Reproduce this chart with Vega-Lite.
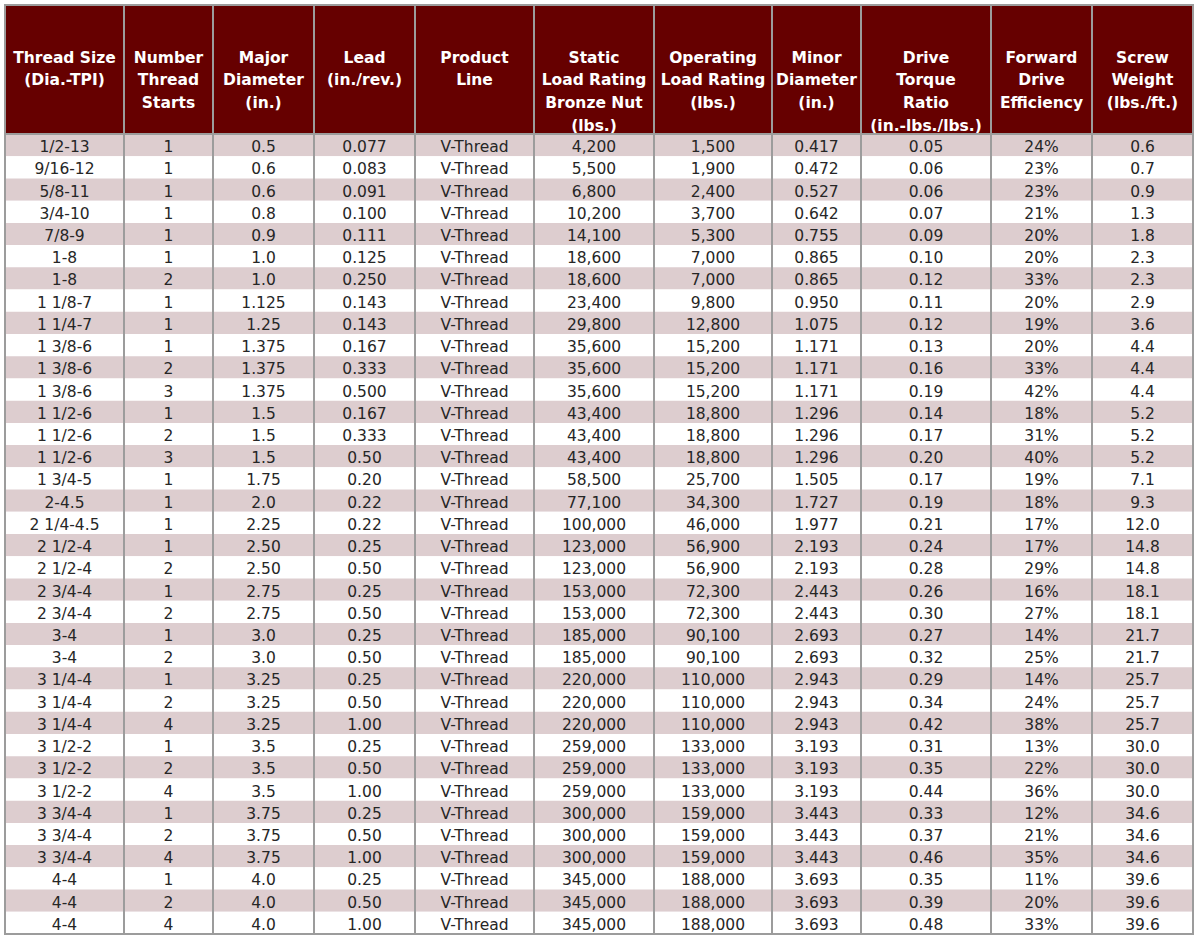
{
  "$schema": "https://vega.github.io/schema/vega-lite/v6.json",
  "padding": {"left": 4, "top": 4, "right": 0, "bottom": 0},
  "spacing": 0,
  "bounds": "flush",
  "columns": 11,
  "datasets": {
    "hdr": [
      {"c": "size", "t": "Thread Size\n(Dia.-TPI)"},
      {"c": "starts", "t": "Number\nThread\nStarts"},
      {"c": "major", "t": "Major\nDiameter\n(in.)"},
      {"c": "lead", "t": "Lead\n(in./rev.)"},
      {"c": "line", "t": "Product\nLine"},
      {"c": "static", "t": "Static\nLoad Rating\nBronze Nut\n(lbs.)"},
      {"c": "oper", "t": "Operating\nLoad Rating\n(lbs.)"},
      {"c": "minor", "t": "Minor\nDiameter\n(in.)"},
      {"c": "torque", "t": "Drive\nTorque\nRatio\n(in.-lbs./lbs.)"},
      {"c": "eff", "t": "Forward\nDrive\nEfficiency"},
      {"c": "weight", "t": "Screw\nWeight\n(lbs./ft.)"}
    ],
    "rows": [
      {"r": 1, "size": "1/2-13", "starts": "1", "major": "0.5", "lead": "0.077", "line": "V-Thread", "static": "4,200", "oper": "1,500", "minor": "0.417", "torque": "0.05", "eff": "24%", "weight": "0.6"},
      {"r": 2, "size": "9/16-12", "starts": "1", "major": "0.6", "lead": "0.083", "line": "V-Thread", "static": "5,500", "oper": "1,900", "minor": "0.472", "torque": "0.06", "eff": "23%", "weight": "0.7"},
      {"r": 3, "size": "5/8-11", "starts": "1", "major": "0.6", "lead": "0.091", "line": "V-Thread", "static": "6,800", "oper": "2,400", "minor": "0.527", "torque": "0.06", "eff": "23%", "weight": "0.9"},
      {"r": 4, "size": "3/4-10", "starts": "1", "major": "0.8", "lead": "0.100", "line": "V-Thread", "static": "10,200", "oper": "3,700", "minor": "0.642", "torque": "0.07", "eff": "21%", "weight": "1.3"},
      {"r": 5, "size": "7/8-9", "starts": "1", "major": "0.9", "lead": "0.111", "line": "V-Thread", "static": "14,100", "oper": "5,300", "minor": "0.755", "torque": "0.09", "eff": "20%", "weight": "1.8"},
      {"r": 6, "size": "1-8", "starts": "1", "major": "1.0", "lead": "0.125", "line": "V-Thread", "static": "18,600", "oper": "7,000", "minor": "0.865", "torque": "0.10", "eff": "20%", "weight": "2.3"},
      {"r": 7, "size": "1-8", "starts": "2", "major": "1.0", "lead": "0.250", "line": "V-Thread", "static": "18,600", "oper": "7,000", "minor": "0.865", "torque": "0.12", "eff": "33%", "weight": "2.3"},
      {"r": 8, "size": "1 1/8-7", "starts": "1", "major": "1.125", "lead": "0.143", "line": "V-Thread", "static": "23,400", "oper": "9,800", "minor": "0.950", "torque": "0.11", "eff": "20%", "weight": "2.9"},
      {"r": 9, "size": "1 1/4-7", "starts": "1", "major": "1.25", "lead": "0.143", "line": "V-Thread", "static": "29,800", "oper": "12,800", "minor": "1.075", "torque": "0.12", "eff": "19%", "weight": "3.6"},
      {"r": 10, "size": "1 3/8-6", "starts": "1", "major": "1.375", "lead": "0.167", "line": "V-Thread", "static": "35,600", "oper": "15,200", "minor": "1.171", "torque": "0.13", "eff": "20%", "weight": "4.4"},
      {"r": 11, "size": "1 3/8-6", "starts": "2", "major": "1.375", "lead": "0.333", "line": "V-Thread", "static": "35,600", "oper": "15,200", "minor": "1.171", "torque": "0.16", "eff": "33%", "weight": "4.4"},
      {"r": 12, "size": "1 3/8-6", "starts": "3", "major": "1.375", "lead": "0.500", "line": "V-Thread", "static": "35,600", "oper": "15,200", "minor": "1.171", "torque": "0.19", "eff": "42%", "weight": "4.4"},
      {"r": 13, "size": "1 1/2-6", "starts": "1", "major": "1.5", "lead": "0.167", "line": "V-Thread", "static": "43,400", "oper": "18,800", "minor": "1.296", "torque": "0.14", "eff": "18%", "weight": "5.2"},
      {"r": 14, "size": "1 1/2-6", "starts": "2", "major": "1.5", "lead": "0.333", "line": "V-Thread", "static": "43,400", "oper": "18,800", "minor": "1.296", "torque": "0.17", "eff": "31%", "weight": "5.2"},
      {"r": 15, "size": "1 1/2-6", "starts": "3", "major": "1.5", "lead": "0.50", "line": "V-Thread", "static": "43,400", "oper": "18,800", "minor": "1.296", "torque": "0.20", "eff": "40%", "weight": "5.2"},
      {"r": 16, "size": "1 3/4-5", "starts": "1", "major": "1.75", "lead": "0.20", "line": "V-Thread", "static": "58,500", "oper": "25,700", "minor": "1.505", "torque": "0.17", "eff": "19%", "weight": "7.1"},
      {"r": 17, "size": "2-4.5", "starts": "1", "major": "2.0", "lead": "0.22", "line": "V-Thread", "static": "77,100", "oper": "34,300", "minor": "1.727", "torque": "0.19", "eff": "18%", "weight": "9.3"},
      {"r": 18, "size": "2 1/4-4.5", "starts": "1", "major": "2.25", "lead": "0.22", "line": "V-Thread", "static": "100,000", "oper": "46,000", "minor": "1.977", "torque": "0.21", "eff": "17%", "weight": "12.0"},
      {"r": 19, "size": "2 1/2-4", "starts": "1", "major": "2.50", "lead": "0.25", "line": "V-Thread", "static": "123,000", "oper": "56,900", "minor": "2.193", "torque": "0.24", "eff": "17%", "weight": "14.8"},
      {"r": 20, "size": "2 1/2-4", "starts": "2", "major": "2.50", "lead": "0.50", "line": "V-Thread", "static": "123,000", "oper": "56,900", "minor": "2.193", "torque": "0.28", "eff": "29%", "weight": "14.8"},
      {"r": 21, "size": "2 3/4-4", "starts": "1", "major": "2.75", "lead": "0.25", "line": "V-Thread", "static": "153,000", "oper": "72,300", "minor": "2.443", "torque": "0.26", "eff": "16%", "weight": "18.1"},
      {"r": 22, "size": "2 3/4-4", "starts": "2", "major": "2.75", "lead": "0.50", "line": "V-Thread", "static": "153,000", "oper": "72,300", "minor": "2.443", "torque": "0.30", "eff": "27%", "weight": "18.1"},
      {"r": 23, "size": "3-4", "starts": "1", "major": "3.0", "lead": "0.25", "line": "V-Thread", "static": "185,000", "oper": "90,100", "minor": "2.693", "torque": "0.27", "eff": "14%", "weight": "21.7"},
      {"r": 24, "size": "3-4", "starts": "2", "major": "3.0", "lead": "0.50", "line": "V-Thread", "static": "185,000", "oper": "90,100", "minor": "2.693", "torque": "0.32", "eff": "25%", "weight": "21.7"},
      {"r": 25, "size": "3 1/4-4", "starts": "1", "major": "3.25", "lead": "0.25", "line": "V-Thread", "static": "220,000", "oper": "110,000", "minor": "2.943", "torque": "0.29", "eff": "14%", "weight": "25.7"},
      {"r": 26, "size": "3 1/4-4", "starts": "2", "major": "3.25", "lead": "0.50", "line": "V-Thread", "static": "220,000", "oper": "110,000", "minor": "2.943", "torque": "0.34", "eff": "24%", "weight": "25.7"},
      {"r": 27, "size": "3 1/4-4", "starts": "4", "major": "3.25", "lead": "1.00", "line": "V-Thread", "static": "220,000", "oper": "110,000", "minor": "2.943", "torque": "0.42", "eff": "38%", "weight": "25.7"},
      {"r": 28, "size": "3 1/2-2", "starts": "1", "major": "3.5", "lead": "0.25", "line": "V-Thread", "static": "259,000", "oper": "133,000", "minor": "3.193", "torque": "0.31", "eff": "13%", "weight": "30.0"},
      {"r": 29, "size": "3 1/2-2", "starts": "2", "major": "3.5", "lead": "0.50", "line": "V-Thread", "static": "259,000", "oper": "133,000", "minor": "3.193", "torque": "0.35", "eff": "22%", "weight": "30.0"},
      {"r": 30, "size": "3 1/2-2", "starts": "4", "major": "3.5", "lead": "1.00", "line": "V-Thread", "static": "259,000", "oper": "133,000", "minor": "3.193", "torque": "0.44", "eff": "36%", "weight": "30.0"},
      {"r": 31, "size": "3 3/4-4", "starts": "1", "major": "3.75", "lead": "0.25", "line": "V-Thread", "static": "300,000", "oper": "159,000", "minor": "3.443", "torque": "0.33", "eff": "12%", "weight": "34.6"},
      {"r": 32, "size": "3 3/4-4", "starts": "2", "major": "3.75", "lead": "0.50", "line": "V-Thread", "static": "300,000", "oper": "159,000", "minor": "3.443", "torque": "0.37", "eff": "21%", "weight": "34.6"},
      {"r": 33, "size": "3 3/4-4", "starts": "4", "major": "3.75", "lead": "1.00", "line": "V-Thread", "static": "300,000", "oper": "159,000", "minor": "3.443", "torque": "0.46", "eff": "35%", "weight": "34.6"},
      {"r": 34, "size": "4-4", "starts": "1", "major": "4.0", "lead": "0.25", "line": "V-Thread", "static": "345,000", "oper": "188,000", "minor": "3.693", "torque": "0.35", "eff": "11%", "weight": "39.6"},
      {"r": 35, "size": "4-4", "starts": "2", "major": "4.0", "lead": "0.50", "line": "V-Thread", "static": "345,000", "oper": "188,000", "minor": "3.693", "torque": "0.39", "eff": "20%", "weight": "39.6"},
      {"r": 36, "size": "4-4", "starts": "4", "major": "4.0", "lead": "1.00", "line": "V-Thread", "static": "345,000", "oper": "188,000", "minor": "3.693", "torque": "0.48", "eff": "33%", "weight": "39.6"}
    ]
  },
  "concat": [
    {"width": 119, "height": 129, "data": {"name": "hdr"}, "transform": [{"filter": "datum.c === 'size'"}], "mark": {"type": "text", "font": "DejaVu Sans", "fontSize": 15.5, "fontWeight": "bold", "color": "#ffffff", "lineBreak": "\n", "lineHeight": 22.7, "baseline": "alphabetic", "align": "center", "dy": -7}, "encoding": {"text": {"field": "t"}}, "view": {"fill": "#660000", "stroke": "#9c9c9c", "strokeWidth": 2}},
    {"width": 89, "height": 129, "data": {"name": "hdr"}, "transform": [{"filter": "datum.c === 'starts'"}], "mark": {"type": "text", "font": "DejaVu Sans", "fontSize": 15.5, "fontWeight": "bold", "color": "#ffffff", "lineBreak": "\n", "lineHeight": 22.7, "baseline": "alphabetic", "align": "center", "dy": -7}, "encoding": {"text": {"field": "t"}}, "view": {"fill": "#660000", "stroke": "#9c9c9c", "strokeWidth": 2}},
    {"width": 101, "height": 129, "data": {"name": "hdr"}, "transform": [{"filter": "datum.c === 'major'"}], "mark": {"type": "text", "font": "DejaVu Sans", "fontSize": 15.5, "fontWeight": "bold", "color": "#ffffff", "lineBreak": "\n", "lineHeight": 22.7, "baseline": "alphabetic", "align": "center", "dy": -7}, "encoding": {"text": {"field": "t"}}, "view": {"fill": "#660000", "stroke": "#9c9c9c", "strokeWidth": 2}},
    {"width": 101, "height": 129, "data": {"name": "hdr"}, "transform": [{"filter": "datum.c === 'lead'"}], "mark": {"type": "text", "font": "DejaVu Sans", "fontSize": 15.5, "fontWeight": "bold", "color": "#ffffff", "lineBreak": "\n", "lineHeight": 22.7, "baseline": "alphabetic", "align": "center", "dy": -7}, "encoding": {"text": {"field": "t"}}, "view": {"fill": "#660000", "stroke": "#9c9c9c", "strokeWidth": 2}},
    {"width": 119, "height": 129, "data": {"name": "hdr"}, "transform": [{"filter": "datum.c === 'line'"}], "mark": {"type": "text", "font": "DejaVu Sans", "fontSize": 15.5, "fontWeight": "bold", "color": "#ffffff", "lineBreak": "\n", "lineHeight": 22.7, "baseline": "alphabetic", "align": "center", "dy": -7}, "encoding": {"text": {"field": "t"}}, "view": {"fill": "#660000", "stroke": "#9c9c9c", "strokeWidth": 2}},
    {"width": 120, "height": 129, "data": {"name": "hdr"}, "transform": [{"filter": "datum.c === 'static'"}], "mark": {"type": "text", "font": "DejaVu Sans", "fontSize": 15.5, "fontWeight": "bold", "color": "#ffffff", "lineBreak": "\n", "lineHeight": 22.7, "baseline": "alphabetic", "align": "center", "dy": -7}, "encoding": {"text": {"field": "t"}}, "view": {"fill": "#660000", "stroke": "#9c9c9c", "strokeWidth": 2}},
    {"width": 118, "height": 129, "data": {"name": "hdr"}, "transform": [{"filter": "datum.c === 'oper'"}], "mark": {"type": "text", "font": "DejaVu Sans", "fontSize": 15.5, "fontWeight": "bold", "color": "#ffffff", "lineBreak": "\n", "lineHeight": 22.7, "baseline": "alphabetic", "align": "center", "dy": -7}, "encoding": {"text": {"field": "t"}}, "view": {"fill": "#660000", "stroke": "#9c9c9c", "strokeWidth": 2}},
    {"width": 89, "height": 129, "data": {"name": "hdr"}, "transform": [{"filter": "datum.c === 'minor'"}], "mark": {"type": "text", "font": "DejaVu Sans", "fontSize": 15.5, "fontWeight": "bold", "color": "#ffffff", "lineBreak": "\n", "lineHeight": 22.7, "baseline": "alphabetic", "align": "center", "dy": -7}, "encoding": {"text": {"field": "t"}}, "view": {"fill": "#660000", "stroke": "#9c9c9c", "strokeWidth": 2}},
    {"width": 130, "height": 129, "data": {"name": "hdr"}, "transform": [{"filter": "datum.c === 'torque'"}], "mark": {"type": "text", "font": "DejaVu Sans", "fontSize": 15.5, "fontWeight": "bold", "color": "#ffffff", "lineBreak": "\n", "lineHeight": 22.7, "baseline": "alphabetic", "align": "center", "dy": -7}, "encoding": {"text": {"field": "t"}}, "view": {"fill": "#660000", "stroke": "#9c9c9c", "strokeWidth": 2}},
    {"width": 101, "height": 129, "data": {"name": "hdr"}, "transform": [{"filter": "datum.c === 'eff'"}], "mark": {"type": "text", "font": "DejaVu Sans", "fontSize": 15.5, "fontWeight": "bold", "color": "#ffffff", "lineBreak": "\n", "lineHeight": 22.7, "baseline": "alphabetic", "align": "center", "dy": -7}, "encoding": {"text": {"field": "t"}}, "view": {"fill": "#660000", "stroke": "#9c9c9c", "strokeWidth": 2}},
    {"width": 101, "height": 129, "data": {"name": "hdr"}, "transform": [{"filter": "datum.c === 'weight'"}], "mark": {"type": "text", "font": "DejaVu Sans", "fontSize": 15.5, "fontWeight": "bold", "color": "#ffffff", "lineBreak": "\n", "lineHeight": 22.7, "baseline": "alphabetic", "align": "center", "dy": -7}, "encoding": {"text": {"field": "t"}}, "view": {"fill": "#660000", "stroke": "#9c9c9c", "strokeWidth": 2}},
    {"width": 119, "height": 800, "data": {"name": "rows"}, "view": {"fill": "#ffffff", "stroke": "#9c9c9c", "strokeWidth": 2}, "encoding": {"y": {"field": "r", "type": "ordinal", "axis": null, "scale": {"paddingInner": 0, "paddingOuter": 0}}}, "layer": [
      {"mark": {"type": "rect"}, "encoding": {"fill": {"condition": {"test": "datum.r % 2 === 1", "value": "#ddcdcf"}, "value": "#ffffff"}}},
      {"mark": {"type": "text", "font": "DejaVu Sans", "fontSize": 15.5, "color": "#262626", "baseline": "alphabetic", "align": "center", "dy": 7}, "encoding": {"text": {"field": "size"}}}
    ]},
    {"width": 89, "height": 800, "data": {"name": "rows"}, "view": {"fill": "#ffffff", "stroke": "#9c9c9c", "strokeWidth": 2}, "encoding": {"y": {"field": "r", "type": "ordinal", "axis": null, "scale": {"paddingInner": 0, "paddingOuter": 0}}}, "layer": [
      {"mark": {"type": "rect"}, "encoding": {"fill": {"condition": {"test": "datum.r % 2 === 1", "value": "#ddcdcf"}, "value": "#ffffff"}}},
      {"mark": {"type": "text", "font": "DejaVu Sans", "fontSize": 15.5, "color": "#262626", "baseline": "alphabetic", "align": "center", "dy": 7}, "encoding": {"text": {"field": "starts"}}}
    ]},
    {"width": 101, "height": 800, "data": {"name": "rows"}, "view": {"fill": "#ffffff", "stroke": "#9c9c9c", "strokeWidth": 2}, "encoding": {"y": {"field": "r", "type": "ordinal", "axis": null, "scale": {"paddingInner": 0, "paddingOuter": 0}}}, "layer": [
      {"mark": {"type": "rect"}, "encoding": {"fill": {"condition": {"test": "datum.r % 2 === 1", "value": "#ddcdcf"}, "value": "#ffffff"}}},
      {"mark": {"type": "text", "font": "DejaVu Sans", "fontSize": 15.5, "color": "#262626", "baseline": "alphabetic", "align": "center", "dy": 7}, "encoding": {"text": {"field": "major"}}}
    ]},
    {"width": 101, "height": 800, "data": {"name": "rows"}, "view": {"fill": "#ffffff", "stroke": "#9c9c9c", "strokeWidth": 2}, "encoding": {"y": {"field": "r", "type": "ordinal", "axis": null, "scale": {"paddingInner": 0, "paddingOuter": 0}}}, "layer": [
      {"mark": {"type": "rect"}, "encoding": {"fill": {"condition": {"test": "datum.r % 2 === 1", "value": "#ddcdcf"}, "value": "#ffffff"}}},
      {"mark": {"type": "text", "font": "DejaVu Sans", "fontSize": 15.5, "color": "#262626", "baseline": "alphabetic", "align": "center", "dy": 7}, "encoding": {"text": {"field": "lead"}}}
    ]},
    {"width": 119, "height": 800, "data": {"name": "rows"}, "view": {"fill": "#ffffff", "stroke": "#9c9c9c", "strokeWidth": 2}, "encoding": {"y": {"field": "r", "type": "ordinal", "axis": null, "scale": {"paddingInner": 0, "paddingOuter": 0}}}, "layer": [
      {"mark": {"type": "rect"}, "encoding": {"fill": {"condition": {"test": "datum.r % 2 === 1", "value": "#ddcdcf"}, "value": "#ffffff"}}},
      {"mark": {"type": "text", "font": "DejaVu Sans", "fontSize": 15.5, "color": "#262626", "baseline": "alphabetic", "align": "center", "dy": 7}, "encoding": {"text": {"field": "line"}}}
    ]},
    {"width": 120, "height": 800, "data": {"name": "rows"}, "view": {"fill": "#ffffff", "stroke": "#9c9c9c", "strokeWidth": 2}, "encoding": {"y": {"field": "r", "type": "ordinal", "axis": null, "scale": {"paddingInner": 0, "paddingOuter": 0}}}, "layer": [
      {"mark": {"type": "rect"}, "encoding": {"fill": {"condition": {"test": "datum.r % 2 === 1", "value": "#ddcdcf"}, "value": "#ffffff"}}},
      {"mark": {"type": "text", "font": "DejaVu Sans", "fontSize": 15.5, "color": "#262626", "baseline": "alphabetic", "align": "center", "dy": 7}, "encoding": {"text": {"field": "static"}}}
    ]},
    {"width": 118, "height": 800, "data": {"name": "rows"}, "view": {"fill": "#ffffff", "stroke": "#9c9c9c", "strokeWidth": 2}, "encoding": {"y": {"field": "r", "type": "ordinal", "axis": null, "scale": {"paddingInner": 0, "paddingOuter": 0}}}, "layer": [
      {"mark": {"type": "rect"}, "encoding": {"fill": {"condition": {"test": "datum.r % 2 === 1", "value": "#ddcdcf"}, "value": "#ffffff"}}},
      {"mark": {"type": "text", "font": "DejaVu Sans", "fontSize": 15.5, "color": "#262626", "baseline": "alphabetic", "align": "center", "dy": 7}, "encoding": {"text": {"field": "oper"}}}
    ]},
    {"width": 89, "height": 800, "data": {"name": "rows"}, "view": {"fill": "#ffffff", "stroke": "#9c9c9c", "strokeWidth": 2}, "encoding": {"y": {"field": "r", "type": "ordinal", "axis": null, "scale": {"paddingInner": 0, "paddingOuter": 0}}}, "layer": [
      {"mark": {"type": "rect"}, "encoding": {"fill": {"condition": {"test": "datum.r % 2 === 1", "value": "#ddcdcf"}, "value": "#ffffff"}}},
      {"mark": {"type": "text", "font": "DejaVu Sans", "fontSize": 15.5, "color": "#262626", "baseline": "alphabetic", "align": "center", "dy": 7}, "encoding": {"text": {"field": "minor"}}}
    ]},
    {"width": 130, "height": 800, "data": {"name": "rows"}, "view": {"fill": "#ffffff", "stroke": "#9c9c9c", "strokeWidth": 2}, "encoding": {"y": {"field": "r", "type": "ordinal", "axis": null, "scale": {"paddingInner": 0, "paddingOuter": 0}}}, "layer": [
      {"mark": {"type": "rect"}, "encoding": {"fill": {"condition": {"test": "datum.r % 2 === 1", "value": "#ddcdcf"}, "value": "#ffffff"}}},
      {"mark": {"type": "text", "font": "DejaVu Sans", "fontSize": 15.5, "color": "#262626", "baseline": "alphabetic", "align": "center", "dy": 7}, "encoding": {"text": {"field": "torque"}}}
    ]},
    {"width": 101, "height": 800, "data": {"name": "rows"}, "view": {"fill": "#ffffff", "stroke": "#9c9c9c", "strokeWidth": 2}, "encoding": {"y": {"field": "r", "type": "ordinal", "axis": null, "scale": {"paddingInner": 0, "paddingOuter": 0}}}, "layer": [
      {"mark": {"type": "rect"}, "encoding": {"fill": {"condition": {"test": "datum.r % 2 === 1", "value": "#ddcdcf"}, "value": "#ffffff"}}},
      {"mark": {"type": "text", "font": "DejaVu Sans", "fontSize": 15.5, "color": "#262626", "baseline": "alphabetic", "align": "center", "dy": 7}, "encoding": {"text": {"field": "eff"}}}
    ]},
    {"width": 101, "height": 800, "data": {"name": "rows"}, "view": {"fill": "#ffffff", "stroke": "#9c9c9c", "strokeWidth": 2}, "encoding": {"y": {"field": "r", "type": "ordinal", "axis": null, "scale": {"paddingInner": 0, "paddingOuter": 0}}}, "layer": [
      {"mark": {"type": "rect"}, "encoding": {"fill": {"condition": {"test": "datum.r % 2 === 1", "value": "#ddcdcf"}, "value": "#ffffff"}}},
      {"mark": {"type": "text", "font": "DejaVu Sans", "fontSize": 15.5, "color": "#262626", "baseline": "alphabetic", "align": "center", "dy": 7}, "encoding": {"text": {"field": "weight"}}}
    ]}
  ],
  "config": {
    "background": "#ffffff",
    "view": {"stroke": "#9c9c9c", "strokeWidth": 2},
    "style": {"cell": {"strokeForeground": true}}
  }
}
